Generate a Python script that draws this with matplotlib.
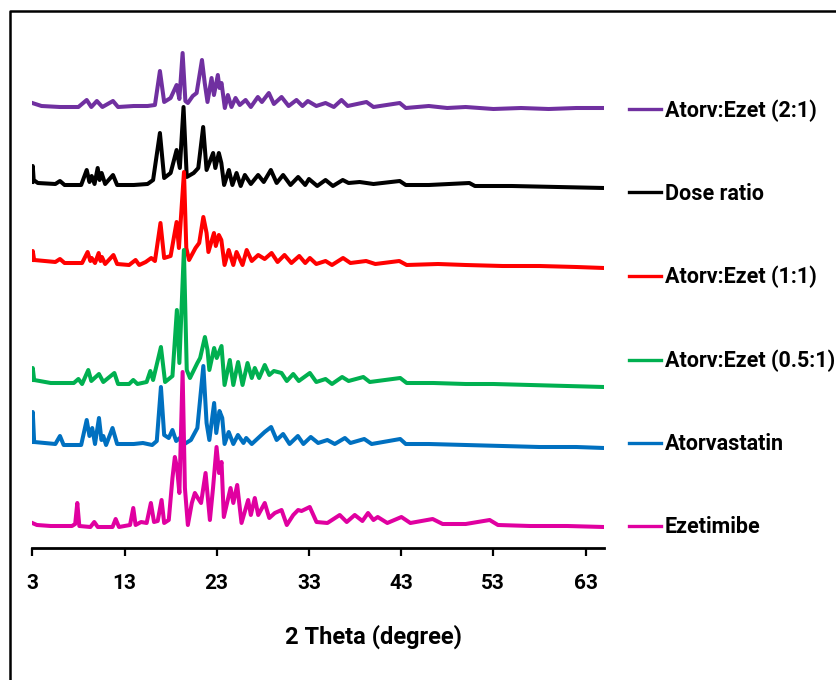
import matplotlib
matplotlib.use('Agg')
import matplotlib.pyplot as plt
from matplotlib.lines import Line2D

plt.rcParams['font.family'] = ['Roboto', 'DejaVu Sans']
plt.rcParams['font.weight'] = 'bold'

# ---- data (2 theta in degree, intensity in a.u., curves already stacked) ----
labels = ['Atorv:Ezet (2:1)', 'Dose ratio', 'Atorv:Ezet (1:1)',
          'Atorv:Ezet (0.5:1)', 'Atorvastatin', 'Ezetimibe']
colors = ['#7030A0', '#000000', '#FF0000', '#00B050', '#0070C0', '#E000A0']

tt_21 = [3.0, 4.0, 6.0, 8.0, 8.9, 9.4, 10.0, 10.6, 11.75, 12.3, 14.0, 15.5, 16.3, 16.84, 17.3,
         18.0, 18.65, 18.95, 19.3, 19.6, 19.87, 20.4, 20.82, 21.4, 21.7, 22.0, 22.44, 22.7, 23.12,
         23.3, 23.52, 23.88, 24.21, 24.6, 25.04, 25.5, 26.13, 26.7, 27.46, 27.9, 28.65, 29.2, 30.03,
         30.8, 31.65, 32.3, 32.88, 33.8, 34.8, 35.7, 36.53, 37.2, 39.24, 40.0, 42.85, 43.5, 46.0,
         48.0, 50.0, 53.0, 56.0, 59.0, 62.0, 65.0]
i_21 = [445, 442, 441, 441, 448, 441, 447, 441, 447, 441, 442, 442, 443, 477, 446,
        450, 463, 449, 495, 447, 445, 452, 455, 488, 465, 446, 470, 453, 473,
        460, 465, 440, 453, 441, 450, 443, 448, 441, 451, 446, 455, 444, 451,
        442, 448, 442, 447, 442, 445, 441, 448, 442, 446, 441, 445, 440, 442,
        440, 441, 439, 440, 439, 440, 440]

tt_dose = [3.0, 3.05, 3.15, 3.6, 5.5, 6.0, 6.5, 8.3, 8.9, 9.2, 9.44, 9.75, 10.09, 10.3, 10.52,
           10.9, 11.75, 12.2, 14.0, 15.5, 16.1, 16.84, 17.3, 18.0, 18.65, 19.0, 19.4, 19.75,
           20.5, 21.0, 21.53, 21.9, 22.61, 22.85, 23.23, 23.5, 23.8, 24.32, 24.7, 25.15, 25.6,
           26.05, 26.7, 27.49, 28.1, 28.87, 29.5, 30.2, 31.0, 31.83, 32.6, 33.0, 33.9, 34.8,
           35.6, 36.67, 37.3, 38.5, 40.0, 42.85, 43.5, 46.0, 50.4, 51.0, 55.0, 60.0, 65.0]
i_dose = [366, 382, 368, 365, 364, 367, 363, 363, 378, 366, 372, 364, 380, 368, 375,
          364, 373, 363, 363, 364, 368, 415, 370, 375, 398, 380, 441, 371,
          375, 380, 421, 378, 395, 380, 395, 385, 363, 378, 363, 375, 362,
          373, 364, 373, 366, 378, 365, 373, 363, 371, 363, 369, 362, 368,
          362, 368, 365, 366, 364, 367, 363, 363, 365, 362, 362, 361, 360]

tt_11 = [3.0, 3.05, 3.2, 5.5, 6.0, 6.5, 8.4, 9.0, 9.3, 9.44, 9.8, 10.2, 10.4, 10.55, 10.9,
         11.8, 12.2, 13.5, 14.2, 14.6, 15.3, 15.9, 16.3, 16.9, 17.3, 18.0, 18.65, 18.9, 19.45,
         19.7, 20.0, 20.7, 21.1, 21.55, 21.9, 22.1, 22.7, 22.9, 23.23, 23.5, 23.85, 24.3, 24.8,
         25.15, 25.8, 26.25, 26.8, 27.5, 28.2, 28.95, 29.6, 30.35, 31.1, 31.95, 32.6, 33.1,
         33.8, 34.8, 35.5, 36.7, 37.5, 39.2, 40.2, 42.8, 43.6, 47.0, 50.0, 54.0, 58.0, 62.0, 65.0]
i_11 = [288, 297, 288, 286, 289, 285, 285, 296, 287, 290, 285, 295, 287, 291, 284,
        293, 284, 283, 288, 283, 286, 290, 287, 325, 290, 292, 326, 300, 376,
        300, 288, 300, 305, 331, 315, 296, 315, 302, 313, 308, 283, 298, 283,
        296, 283, 298, 287, 293, 289, 295, 286, 293, 285, 292, 285, 290,
        284, 287, 283, 290, 285, 287, 284, 287, 283, 284, 283, 282, 282, 281, 280]

tt_051 = [3.0, 3.05, 3.2, 5.0, 7.5, 8.0, 8.4, 9.07, 9.4, 10.23, 10.7, 11.9, 12.3, 13.5, 13.95,
          14.4, 15.4, 15.8, 16.1, 16.95, 17.4, 18.2, 18.68, 18.95, 19.44, 19.75, 20.1, 20.9,
          21.2, 21.72, 22.0, 22.2, 22.72, 23.0, 23.52, 23.85, 24.42, 24.8, 25.32, 25.8, 26.34,
          26.8, 27.13, 27.6, 28.21, 28.7, 29.2, 30.03, 30.6, 31.3, 31.9, 33.1, 33.8, 34.8, 35.5,
          36.6, 37.3, 38.9, 39.6, 42.9, 43.6, 46.5, 50.0, 53.0, 57.0, 61.0, 65.0]
i_051 = [168, 180, 168, 165, 165, 169, 164, 178, 167, 174, 166, 175, 164, 164, 168,
         164, 166, 177, 168, 201, 166, 172, 238, 185, 298, 178, 170, 185,
         190, 211, 198, 178, 200, 190, 202, 163, 188, 163, 186, 163, 185,
         170, 180, 170, 183, 173, 177, 175, 167, 174, 167, 175, 166, 169, 164,
         171, 167, 171, 166, 170, 165, 165, 164, 164, 163, 162, 161]

tt_ator = [3.0, 3.05, 3.2, 5.5, 6.0, 6.4, 8.3, 8.9, 9.2, 9.5, 9.8, 10.23, 10.5, 10.7, 11.0,
           11.7, 12.2, 14.0, 15.0, 16.0, 16.5, 16.95, 17.3, 17.8, 18.2, 18.6, 19.0, 19.5, 20.2,
           20.9, 21.55, 21.9, 22.2, 22.72, 22.95, 23.3, 23.6, 23.85, 24.3, 24.8, 25.3, 25.9,
           26.2, 26.8, 27.5, 28.2, 28.9, 29.5, 30.2, 30.9, 31.8, 32.4, 33.2, 34.0, 35.0, 35.8,
           36.9, 37.5, 39.0, 39.8, 42.9, 43.5, 46.0, 50.0, 54.0, 58.0, 62.0, 65.0]
i_ator = [106, 136, 106, 104, 112, 103, 103, 128, 112, 120, 104, 130, 108, 112, 103,
          120, 104, 104, 105, 103, 107, 161, 113, 110, 118, 107, 110, 104, 108,
          120, 182, 125, 108, 145, 115, 137, 130, 104, 116, 104, 113, 105,
          110, 104, 110, 116, 121, 108, 114, 104, 112, 104, 111, 105, 108, 104,
          110, 105, 109, 104, 109, 104, 104, 103, 102, 101, 101, 100]

tt_ezet = [3.0, 3.5, 5.0, 7.3, 7.65, 7.88, 8.1, 9.3, 9.72, 10.1, 11.7, 12.04, 12.4, 13.6, 13.95,
           14.2, 14.8, 15.4, 15.86, 16.2, 16.6, 17.02, 17.3, 17.8, 18.2, 18.46, 18.7, 18.95,
           19.3, 19.55, 19.87, 20.3, 20.63, 20.95, 21.3, 21.79, 22.26, 22.6, 22.98, 23.25,
           23.52, 23.77, 24.5, 24.8, 25.22, 25.69, 26.41, 26.7, 27.13, 27.5, 28.21, 28.7, 29.3,
           30.03, 30.6, 31.3, 31.83, 32.2, 33.09, 33.82, 35.0, 36.34, 37.1, 37.97, 38.8, 39.41,
           40.0, 40.46, 41.5, 43.03, 44.0, 46.42, 47.5, 50.0, 52.6, 53.5, 57.0, 61.0, 65.0]
i_ezet = [25, 23, 22, 22, 24, 45, 22, 21, 26, 21, 21, 29, 21, 23, 40,
          23, 26, 25, 45, 26, 27, 48, 25, 28, 70, 91, 80, 55,
          176, 60, 23, 45, 55, 50, 45, 75, 28, 60, 101, 75,
          86, 31, 60, 45, 63, 25, 48, 33, 50, 33, 45, 30, 35,
          38, 23, 33, 38, 37, 41, 26, 25, 33, 26, 33, 27, 35,
          28, 31, 25, 31, 25, 29, 24, 24, 28, 23, 22, 22, 21]

two_theta = [tt_21, tt_dose, tt_11, tt_051, tt_ator, tt_ezet]
intensity = [i_21, i_dose, i_11, i_051, i_ator, i_ezet]
xticks = [3, 13, 23, 33, 43, 53, 63]

# ---- figure ----
W, H = 837, 680
fig = plt.figure(figsize=(W / 100, H / 100), dpi=100)
ax = fig.add_axes([32.3 / W, 1 - 548 / H, (604 - 32.3) / W, 510 / H])

for x, y, c, lab in zip(two_theta, intensity, colors, labels):
    ax.plot(x, y, color=c, lw=2.9, label=lab, solid_joinstyle='round')

ax.set_xlim(3, 65)
ax.set_ylim(0, 510)
ax.set_xticks(xticks)
ax.set_yticks([])
for s in ['left', 'right', 'top']:
    ax.spines[s].set_visible(False)
ax.spines['bottom'].set_linewidth(2.0)
ax.tick_params(axis='x', direction='out', length=6, width=1.6, pad=13, labelsize=15)
for t in ax.get_xticklabels():
    t.set_fontweight('bold')

ax.set_xlabel('2 Theta (degree)', fontsize=17, fontweight='bold')
ax.xaxis.set_label_coords(0.596, -0.150)

leg = ax.legend(loc='upper left', bbox_to_anchor=(629 / W, 1 - 99 / H),
                bbox_transform=fig.transFigure, frameon=False, borderpad=0,
                borderaxespad=0, handlelength=1.5, handletextpad=0.15,
                labelspacing=2.84, prop={'size': 15.5, 'weight': 'bold'})
for h in leg.get_lines():
    h.set_linewidth(2.4)

# outer frame (only left and top edges fall inside the picture)
fig.add_artist(Line2D([9.5 / W, 9.5 / W, 1.0], [0.0, 1 - 10.5 / H, 1 - 10.5 / H],
                      transform=fig.transFigure, color='black', lw=1.8))

fig.savefig('out.png', dpi=100)
